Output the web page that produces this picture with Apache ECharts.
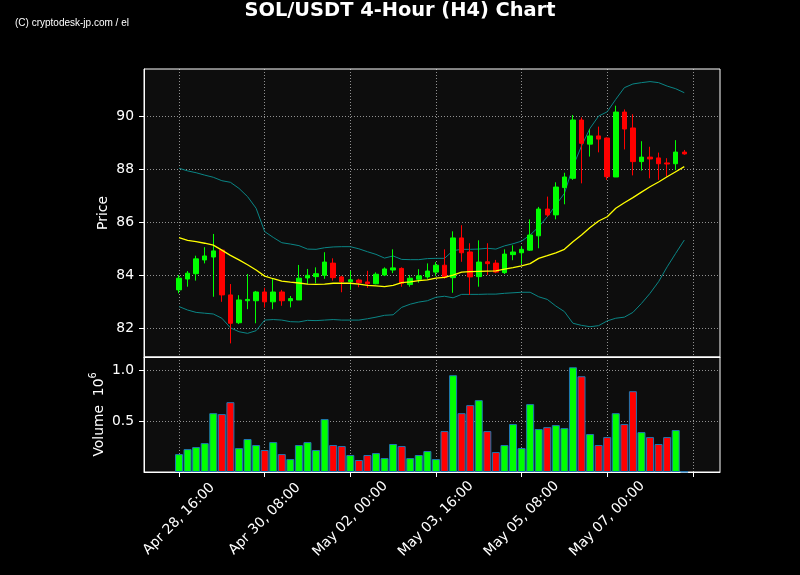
<!DOCTYPE html>
<html><head><meta charset="utf-8">
<script src="https://cdn.jsdelivr.net/npm/echarts@6/dist/echarts.min.js"></script>
<style>html,body{margin:0;padding:0;background:#000}#c{width:800px;height:575px}</style>
</head><body><div id="c"></div>
<script>
const openP = [83.45, 83.86, 84.06, 84.58, 84.69, 84.95, 83.26, 82.21, 83.04, 83.04, 83.37, 83.00, 83.37, 83.04, 83.07, 83.90, 83.95, 84.00, 84.46, 83.94, 83.76, 83.82, 83.75, 83.68, 84.01, 84.20, 84.26, 83.65, 83.85, 83.94, 84.12, 84.38, 83.91, 85.41, 84.88, 83.95, 84.51, 84.46, 84.10, 84.78, 84.85, 84.95, 85.49, 86.50, 86.28, 87.31, 87.66, 89.86, 88.95, 89.26, 89.18, 87.71, 90.16, 89.56, 88.29, 88.46, 88.43, 88.24, 88.21, 88.65];
const closeP = [83.89, 84.08, 84.62, 84.73, 84.92, 83.26, 82.19, 83.07, 83.09, 83.37, 83.00, 83.37, 83.04, 83.12, 83.89, 84.00, 84.06, 84.50, 83.91, 83.76, 83.83, 83.72, 83.68, 84.04, 84.24, 84.28, 83.70, 83.89, 83.98, 84.16, 84.38, 83.92, 85.41, 84.85, 83.94, 84.50, 84.44, 84.12, 84.80, 84.88, 84.98, 85.52, 86.50, 86.28, 87.33, 87.71, 89.86, 88.98, 89.26, 89.14, 87.72, 90.16, 89.52, 88.29, 88.46, 88.39, 88.21, 88.20, 88.65, 88.58];
const lowP = [83.32, 83.57, 83.80, 84.45, 83.19, 83.00, 81.43, 82.16, 82.72, 82.19, 82.78, 82.72, 82.85, 82.79, 83.07, 83.67, 83.70, 83.87, 83.80, 83.36, 83.45, 83.55, 83.53, 83.66, 83.97, 84.08, 83.57, 83.57, 83.72, 83.87, 83.97, 83.87, 83.34, 84.51, 83.26, 83.57, 84.01, 84.08, 84.05, 84.57, 84.43, 84.92, 85.02, 86.21, 86.11, 86.68, 87.60, 87.47, 88.48, 88.64, 87.60, 87.71, 88.75, 87.77, 87.95, 87.66, 87.60, 87.72, 87.97, 88.55];
const highP = [84.01, 84.16, 84.74, 85.06, 85.56, 84.96, 83.67, 83.25, 84.05, 83.41, 83.53, 83.89, 83.45, 83.22, 84.39, 84.24, 84.30, 84.87, 84.64, 83.98, 84.17, 83.87, 84.17, 84.11, 84.30, 84.98, 84.30, 84.01, 84.23, 84.45, 84.50, 84.98, 85.66, 85.89, 85.21, 85.32, 85.21, 84.58, 84.98, 85.13, 85.10, 86.11, 86.58, 86.97, 87.51, 87.87, 90.05, 89.96, 89.51, 89.61, 89.20, 90.40, 90.26, 90.08, 89.06, 88.85, 88.63, 88.42, 89.10, 88.73];
const volume = [0.176, 0.225, 0.245, 0.284, 0.578, 0.569, 0.686, 0.235, 0.324, 0.265, 0.216, 0.294, 0.176, 0.127, 0.265, 0.294, 0.216, 0.520, 0.265, 0.255, 0.167, 0.118, 0.167, 0.186, 0.137, 0.275, 0.255, 0.137, 0.167, 0.206, 0.127, 0.402, 0.951, 0.578, 0.657, 0.706, 0.402, 0.196, 0.265, 0.471, 0.235, 0.667, 0.422, 0.441, 0.461, 0.431, 1.029, 0.941, 0.373, 0.265, 0.343, 0.578, 0.471, 0.794, 0.392, 0.343, 0.275, 0.343, 0.412, 0.004];
const bbMid = [85.42, 85.32, 85.27, 85.21, 85.14, 84.95, 84.75, 84.58, 84.40, 84.20, 83.97, 83.87, 83.78, 83.74, 83.71, 83.67, 83.66, 83.67, 83.70, 83.70, 83.70, 83.67, 83.62, 83.60, 83.57, 83.62, 83.72, 83.75, 83.80, 83.83, 83.89, 83.92, 84.01, 84.12, 84.14, 84.15, 84.16, 84.17, 84.23, 84.29, 84.36, 84.44, 84.64, 84.74, 84.85, 84.98, 85.27, 85.52, 85.80, 86.05, 86.21, 86.53, 86.74, 86.93, 87.14, 87.34, 87.52, 87.72, 87.91, 88.10];
const bbUpper = [88.04, 87.94, 87.87, 87.78, 87.70, 87.57, 87.51, 87.28, 86.97, 86.53, 85.65, 85.43, 85.23, 85.18, 85.12, 84.99, 84.98, 85.04, 85.07, 85.08, 85.08, 85.00, 84.89, 84.79, 84.65, 84.73, 84.60, 84.59, 84.59, 84.63, 84.64, 84.64, 84.93, 84.98, 84.98, 84.99, 85.02, 84.99, 85.11, 85.19, 85.29, 85.52, 85.83, 86.21, 86.65, 87.09, 88.10, 88.88, 89.55, 90.01, 90.17, 90.64, 91.08, 91.22, 91.27, 91.31, 91.27, 91.14, 91.04, 90.89];
const bbLower = [82.82, 82.69, 82.60, 82.57, 82.54, 82.38, 82.02, 81.87, 81.81, 81.91, 82.31, 82.33, 82.31, 82.25, 82.24, 82.30, 82.29, 82.31, 82.33, 82.31, 82.31, 82.31, 82.36, 82.42, 82.49, 82.51, 82.79, 82.91, 82.99, 83.04, 83.17, 83.21, 83.15, 83.28, 83.28, 83.28, 83.29, 83.29, 83.32, 83.34, 83.36, 83.36, 83.19, 83.09, 82.84, 82.63, 82.19, 82.11, 82.06, 82.10, 82.28, 82.38, 82.42, 82.60, 82.94, 83.32, 83.76, 84.32, 84.83, 85.33];
const xTickPos = [0, 10, 20, 30, 40, 50, 60];
const xTickLabels = ['Apr 28, 16:00', 'Apr 30, 08:00', 'May 02, 00:00', 'May 03, 16:00', 'May 05, 08:00', 'May 07, 00:00', ''];
const priceTicks = [82, 84, 86, 88, 90];
const volTicks = [0.5, 1.0];

const FS = 13.89;
const gridLine = { show: true, lineStyle: { color: 'rgba(255,255,255,0.55)', width: 1, type: [1, 2] } };
const idx = openP.map((_, i) => i);
const candleData = idx.map(i => [i, openP[i], closeP[i], lowP[i], highP[i]]);
const volData = idx.map(i => ({ value: [i, volume[i]], itemStyle: { color: closeP[i] >= openP[i] ? '#00ff00' : '#ff0000' } }));
const line = arr => idx.map(i => [i, arr[i]]);

const chart = echarts.init(document.getElementById('c'), null, { renderer: 'canvas' });
chart.setOption({
  backgroundColor: '#000000',
  animation: false,
  title: [
    { text: 'SOL/USDT 4-Hour (H4) Chart', left: 'center', top: 1.5, padding: 0,
      textStyle: { color: '#ffffff', fontSize: 19.4, fontWeight: 'bold', fontFamily: 'DejaVu Sans' } },
    { text: '(C) cryptodesk-jp.com / el', left: 15, top: 18.5, padding: 0,
      textStyle: { color: '#ffffff', fontSize: 10, fontWeight: 'normal', fontFamily: 'Liberation Sans' } }
  ],
  grid: [
    { left: 144, top: 69, width: 576, height: 288, show: true, backgroundColor: '#0d0d0d', borderColor: '#ffffff', borderWidth: 1, outerBoundsMode: 'none' },
    { left: 144, top: 357, width: 576, height: 115, show: true, backgroundColor: '#0d0d0d', borderColor: '#ffffff', borderWidth: 1, outerBoundsMode: 'none' }
  ],
  xAxis: [
    { type: 'value', gridIndex: 0, min: -4.09, max: 63.17,
      axisLine: { show: true, onZero: false, lineStyle: { color: '#ffffff' } },
      axisTick: { show: false, customValues: xTickPos },
      axisLabel: { show: false, customValues: xTickPos },
      splitLine: gridLine },
    { type: 'value', gridIndex: 1, min: -4.09, max: 63.17,
      axisLine: { show: true, onZero: false, lineStyle: { color: '#ffffff' } },
      axisTick: { show: true, length: 5, customValues: xTickPos, lineStyle: { color: '#ffffff' } },
      axisLabel: { show: true, customValues: xTickPos, rotate: 45, align: 'center', verticalAlign: 'middle', margin: 47,
        color: '#ffffff', fontSize: FS, fontFamily: 'DejaVu Sans',
        formatter: v => { const k = xTickPos.indexOf(Math.round(v)); return k >= 0 ? xTickLabels[k] : ''; } },
      splitLine: gridLine }
  ],
  yAxis: [
    { type: 'value', gridIndex: 0, min: 80.917, max: 91.785,
      name: 'Price', nameLocation: 'middle', nameGap: 34, nameRotate: 90, nameMoveOverlap: false,
      nameTextStyle: { color: '#ffffff', fontSize: FS, fontFamily: 'DejaVu Sans' },
      axisLine: { show: true, onZero: false, lineStyle: { color: '#ffffff' } },
      axisTick: { show: true, length: 5, customValues: priceTicks, lineStyle: { color: '#ffffff' } },
      axisLabel: { show: true, customValues: priceTicks, color: '#ffffff', fontSize: FS, fontFamily: 'DejaVu Sans', margin: 10,
        formatter: v => String(Math.round(v)) },
      splitLine: gridLine },
    { type: 'value', gridIndex: 1, min: 0, max: 1.13,
      name: '{a|Volume  10}{s|6}', nameLocation: 'middle', nameGap: 38, nameRotate: 90, nameMoveOverlap: false,
      nameTextStyle: { color: '#ffffff', fontSize: FS, fontFamily: 'DejaVu Sans', lineHeight: 18,
        rich: { a: { color: '#ffffff', fontSize: FS, fontFamily: 'DejaVu Sans', verticalAlign: 'bottom', lineHeight: 18 },
                s: { color: '#ffffff', fontSize: 9.7, fontFamily: 'DejaVu Sans', verticalAlign: 'top', lineHeight: 18 } } },
      axisLine: { show: true, onZero: false, lineStyle: { color: '#ffffff' } },
      axisTick: { show: true, length: 5, customValues: volTicks, lineStyle: { color: '#ffffff' } },
      axisLabel: { show: true, customValues: volTicks, color: '#ffffff', fontSize: FS, fontFamily: 'DejaVu Sans', margin: 10,
        formatter: v => v.toFixed(1) },
      splitLine: gridLine }
  ],
  series: [
    { type: 'line', name: 'Upper', xAxisIndex: 0, yAxisIndex: 0, data: line(bbUpper), showSymbol: false, symbol: 'none',
      lineStyle: { color: '#0a8585', width: 1 }, z: 2 },
    { type: 'line', name: 'Lower', xAxisIndex: 0, yAxisIndex: 0, data: line(bbLower), showSymbol: false, symbol: 'none',
      lineStyle: { color: '#0a8585', width: 1 }, z: 2 },
    { type: 'candlestick', xAxisIndex: 0, yAxisIndex: 0, data: candleData, barWidth: 5,
      encode: { x: 0, y: [1, 2, 3, 4] },
      itemStyle: { color: '#00ff00', color0: '#ff0000', borderColor: '#00ff00', borderColor0: '#ff0000', borderWidth: 1 }, z: 3 },
    { type: 'line', name: 'Mid', xAxisIndex: 0, yAxisIndex: 0, data: line(bbMid), showSymbol: false, symbol: 'none',
      lineStyle: { color: '#ffff00', width: 1.3 }, z: 4 },
    { type: 'bar', xAxisIndex: 1, yAxisIndex: 1, data: volData, barWidth: 8,
      itemStyle: { borderColor: '#1f77b4', borderWidth: 1 } }
  ]
});
</script></body></html>
